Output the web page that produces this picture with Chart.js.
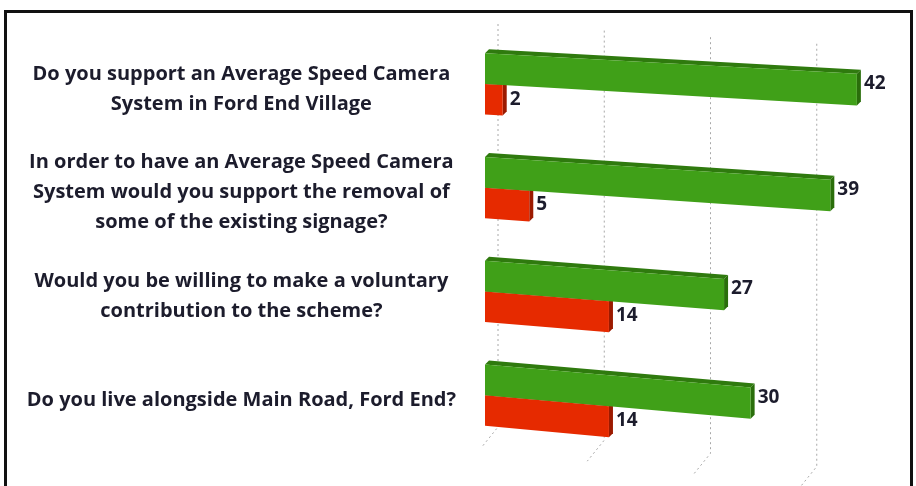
<!DOCTYPE html>
<html>
<head>
<meta charset="utf-8">
<script src="https://cdn.jsdelivr.net/npm/chart.js@4/dist/chart.umd.min.js"></script>
<style>
  html, body { margin: 0; padding: 0; background: #fff; }
  #wrap { position: relative; width: 916px; height: 486px; overflow: hidden; }
  #frame {
    position: absolute; left: 4px; top: 10px; width: 903px; height: 500px;
    border: 3px solid #111; border-bottom: none; pointer-events: none;
  }
  canvas { position: absolute; left: 0; top: 0; }
</style>
</head>
<body>
<div id="wrap">
  <canvas id="surveyChart" width="916" height="486"></canvas>
  <div id="frame"></div>
</div>
<script>
// survey answers, Ford End average speed camera
const questions = [
  ["Do you support an Average Speed Camera", "System in Ford End Village"],
  ["In order to have an Average Speed Camera", "System would you support the removal of", "some of the existing signage?"],
  ["Would you be willing to make a voluntary", "contribution to the scheme?"],
  ["Do you live alongside Main Road, Ford End?"]
];
const yesVotes = [42, 39, 27, 30];
const noVotes = [2, 5, 14, 14];

const green = { front: "#40a018", top: "#2f7a0e", side: "#2a6e0b" };
const red = { front: "#e62a00", top: "#b82000", side: "#9c1a00" };
const faces = [green, red];
const DEPTH = 4;

// fake perspective: bars drop a little as they go right
function warp(area, x, y) {
  const s = 0.055 + 0.0001 * (y - area.top - 20);
  return [x, y + (x - area.left) * s];
}

function poly(ctx, pts, fill) {
  ctx.beginPath();
  ctx.moveTo(pts[0][0], pts[0][1]);
  for (let i = 1; i < pts.length; i++) ctx.lineTo(pts[i][0], pts[i][1]);
  ctx.closePath();
  ctx.fillStyle = fill;
  ctx.fill();
}

const perspectiveBars = {
  id: "perspectiveBars",
  beforeDatasetsDraw(chart) {
    // dotted back wall grid
    const ctx = chart.ctx;
    const area = chart.chartArea;
    const xs = chart.scales.x;
    ctx.save();
    ctx.strokeStyle = "#a8a8a8";
    ctx.lineWidth = 1;
    ctx.setLineDash([2, 3]);
    xs.ticks.forEach(function (t) {
      if (t.value >= xs.max) return;
      const fx = xs.getPixelForValue(t.value);
      const bx = fx + 13;
      const k = bx - area.left - 13;
      const top = area.top - 8 + k * 0.062;
      const bottom = area.bottom - 20 + k * 0.124;
      ctx.beginPath();
      ctx.moveTo(bx, top);
      ctx.lineTo(bx, bottom);
      ctx.lineTo(bx - 17, bottom + 21);
      ctx.stroke();
    });
    ctx.restore();
  },
  beforeDatasetDraw(chart, args) {
    const ctx = chart.ctx;
    const area = chart.chartArea;
    const c = faces[args.index];
    args.meta.data.forEach(function (bar) {
      const p = bar.getProps(["x", "y", "base", "height"], true);
      const t = p.y - p.height / 2;
      const b = p.y + p.height / 2;
      const tl = warp(area, p.base, t), tr = warp(area, p.x, t);
      const br = warp(area, p.x, b), bl = warp(area, p.base, b);
      const back = (q) => [q[0] + DEPTH, q[1] - DEPTH];
      poly(ctx, [tl, tr, back(tr), back(tl)], c.top);
      poly(ctx, [tr, br, back(br), back(tr)], c.side);
      poly(ctx, [tl, tr, br, bl], c.front);
    });
    return false;
  },
  afterDatasetsDraw(chart) {
    const ctx = chart.ctx;
    const area = chart.chartArea;
    ctx.save();
    ctx.font = "bold 19px 'Open Sans'";
    ctx.fillStyle = "#1c1c2c";
    ctx.textBaseline = "middle";
    ctx.textAlign = "left";
    chart.data.datasets.forEach(function (ds, i) {
      chart.getDatasetMeta(i).data.forEach(function (bar, j) {
        const p = bar.getProps(["x", "y"], true);
        const pt = warp(area, p.x, p.y);
        ctx.fillText(ds.data[j], pt[0] + 7, pt[1] - (i === 0 ? 6 : 1));
      });
    });
    ctx.restore();
  }
};

document.addEventListener("DOMContentLoaded", function () {
  const ctx = document.getElementById("surveyChart").getContext("2d");
  new Chart(ctx, {
    type: "bar",
    data: {
      labels: questions,
      datasets: [
        { label: "Yes", data: yesVotes, backgroundColor: green.front },
        { label: "No", data: noVotes, backgroundColor: red.front }
      ]
    },
    options: {
      indexAxis: "y",
      responsive: false,
      animation: false,
      layout: { padding: { left: 8, right: 6, top: 32, bottom: 39 } },
      datasets: { bar: { categoryPercentage: 0.59, barPercentage: 1 } },
      plugins: { legend: { display: false }, tooltip: { enabled: false } },
      scales: {
        x: {
          display: false,
          min: 0,
          max: 48,
          ticks: { stepSize: 12 }
        },
        y: {
          grid: { display: false, drawTicks: false },
          border: { display: false },
          afterFit: function (scale) {
            scale.width = 477;
            scale.paddingTop = 0;
            scale.paddingBottom = 0;
          },
          ticks: {
            crossAlign: "center",
            padding: 29,
            labelOffset: 5,
            color: "#1c1c2c",
            font: { family: "'Open Sans'", weight: "bold", size: 20, lineHeight: 1.5 }
          }
        }
      }
    },
    plugins: [perspectiveBars]
  });
});
</script>
</body>
</html>
